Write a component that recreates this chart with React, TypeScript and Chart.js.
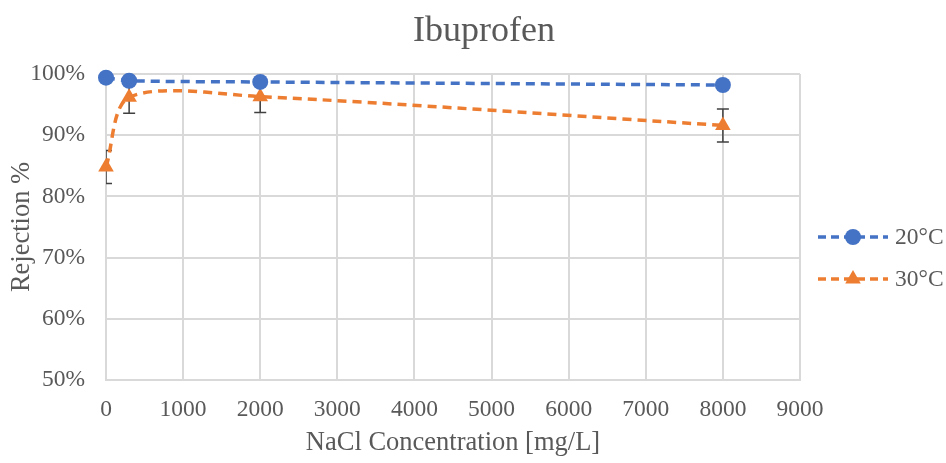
import React, { useEffect, useRef } from "react";
import { Chart, registerables } from "chart.js";

Chart.register(...registerables);

// ---- Data ----
const concentrations = [0, 300, 2000, 8000];
const rejection20 = [99.4, 98.9, 98.7, 98.2];
const rejection30 = [84.8, 96.2, 96.3, 91.6];
const error30 = [2.7, 2.6, 2.6, 2.7];
const seriesLabels = ["20°C", "30°C"];
const chartTitle = "Ibuprofen";
const xAxisTitle = "NaCl Concentration [mg/L]";
const yAxisTitle = "Rejection %";
const xRange = [0, 9000];
const xStep = 1000;
const yRange = [50, 100];
const yStep = 10;

const FONT = "'Liberation Serif', 'Times New Roman', serif";
const TEXT = "#595959";
const GRID = "#D9D9D9";
const BLUE = "#4472C4";
const ORANGE = "#ED7D31";

const errorBarPlugin = {
  id: "errorBars",
  beforeDatasetsDraw(chart: any) {
    const { ctx, chartArea, scales } = chart;
    const x = scales.x;
    const y = scales.y;
    ctx.save();
    ctx.beginPath();
    ctx.rect(chartArea.left, chartArea.top, chartArea.right - chartArea.left, chartArea.bottom - chartArea.top);
    ctx.clip();
    ctx.strokeStyle = "#404040";
    ctx.lineWidth = 1.5;
    concentrations.forEach((c, i) => {
      const px = x.getPixelForValue(c);
      const top = y.getPixelForValue(rejection30[i] + error30[i]);
      const bot = y.getPixelForValue(rejection30[i] - error30[i]);
      const hw = 6;
      ctx.beginPath();
      ctx.moveTo(px, top);
      ctx.lineTo(px, bot);
      ctx.moveTo(px - hw, top);
      ctx.lineTo(px + hw, top);
      ctx.moveTo(px - hw, bot);
      ctx.lineTo(px + hw, bot);
      ctx.stroke();
    });
    ctx.restore();
  },
};

function drawMarker(ctx: CanvasRenderingContext2D, style: string, x: number, y: number, r: number, color: string) {
  ctx.fillStyle = color;
  ctx.beginPath();
  if (style === "triangle") {
    const h = r * 1.5;
    const w = r * Math.sqrt(3);
    ctx.moveTo(x, y - r);
    ctx.lineTo(x + w / 2, y - r + h);
    ctx.lineTo(x - w / 2, y - r + h);
    ctx.closePath();
  } else {
    ctx.arc(x, y, r, 0, Math.PI * 2);
  }
  ctx.fill();
}

const titleAndLegendPlugin = {
  id: "titleAndLegend",
  afterDraw(chart: any) {
    const { ctx, chartArea, width } = chart;
    ctx.save();
    ctx.fillStyle = TEXT;
    ctx.font = `36px ${FONT}`;
    ctx.textAlign = "center";
    ctx.textBaseline = "alphabetic";
    ctx.fillText(chartTitle, width / 2 + 11, 41);
    ctx.restore();

    chart.data.datasets.forEach((ds: any, i: number) => {
      const cy = chartArea.top + 163 + i * 42;
      const x0 = chartArea.right + 18;
      const x1 = chartArea.right + 88;
      const mx = chartArea.right + 53;
      ctx.save();
      ctx.strokeStyle = ds.borderColor;
      ctx.lineWidth = 3.5;
      ctx.setLineDash([8, 5]);
      ctx.beginPath();
      ctx.moveTo(x0, cy);
      ctx.lineTo(x1, cy);
      ctx.stroke();
      ctx.setLineDash([]);
      drawMarker(ctx, ds.pointStyle, mx, cy, ds.pointRadius, ds.borderColor);
      ctx.fillStyle = TEXT;
      ctx.font = `23.5px ${FONT}`;
      ctx.textBaseline = "middle";
      ctx.textAlign = "left";
      ctx.fillText(ds.label, chartArea.right + 95, cy + 1);
      ctx.restore();
    });
  },
};

export default function App() {
  const canvasRef = useRef<HTMLCanvasElement | null>(null);

  useEffect(() => {
    document.body.style.margin = "0";
    const canvas = canvasRef.current;
    if (!canvas) return;
    const chart = new Chart(canvas, {
      type: "line",
      data: {
        datasets: [
          {
            label: seriesLabels[0],
            data: concentrations.map((c, i) => ({ x: c, y: rejection20[i] })),
            borderColor: BLUE,
            backgroundColor: BLUE,
            borderWidth: 3.5,
            borderDash: [9, 6],
            pointStyle: "circle",
            pointRadius: 8,
            pointBorderWidth: 0,
            tension: 0.3,
            clip: false as any,
          },
          {
            label: seriesLabels[1],
            data: concentrations.map((c, i) => ({ x: c, y: rejection30[i] })),
            borderColor: ORANGE,
            backgroundColor: ORANGE,
            borderWidth: 3.5,
            borderDash: [9, 6],
            pointStyle: "triangle",
            pointRadius: 9,
            pointBorderWidth: 0,
            tension: 0.3,
            clip: false as any,
          },
        ],
      },
      options: {
        animation: false,
        responsive: false,
        maintainAspectRatio: false,
        layout: { padding: { left: 0, right: 146, top: 74, bottom: 0 } },
        plugins: {
          legend: { display: false },
          tooltip: { enabled: false },
          title: { display: false },
        },
        scales: {
          x: {
            type: "linear",
            min: xRange[0],
            max: xRange[1],
            ticks: {
              stepSize: xStep,
              color: TEXT,
              font: { family: FONT, size: 23.5 },
              padding: 16,
              maxRotation: 0,
              callback: (v: any) => String(v),
            },
            grid: { color: GRID, lineWidth: 2, drawTicks: false },
            border: { color: GRID, width: 2 },
            title: {
              display: true,
              text: xAxisTitle,
              color: TEXT,
              font: { family: FONT, size: 26.5, lineHeight: 1.2 },
              padding: { top: 0, bottom: 4 },
            },
            afterFit(scale: any) {
              scale.height = 83;
            },
          },
          y: {
            type: "linear",
            min: yRange[0],
            max: yRange[1],
            ticks: {
              stepSize: yStep,
              color: TEXT,
              font: { family: FONT, size: 23.5 },
              padding: 21,
              callback: (v: any) => `${v}%`,
            },
            grid: { color: GRID, lineWidth: 2, drawTicks: false },
            border: { color: GRID, width: 2 },
            title: {
              display: true,
              text: yAxisTitle,
              color: TEXT,
              font: { family: FONT, size: 26.5, lineHeight: 1.2 },
              padding: { top: 6, bottom: 0 },
            },
            afterFit(scale: any) {
              scale.width = 106;
            },
          },
        },
      },
      plugins: [errorBarPlugin, titleAndLegendPlugin],
    });
    return () => chart.destroy();
  }, []);

  return (
    <div style={{ width: 946, height: 463 }}>
      <canvas ref={canvasRef} width={946} height={463} style={{ display: "block", width: 946, height: 463 }} />
    </div>
  );
}
